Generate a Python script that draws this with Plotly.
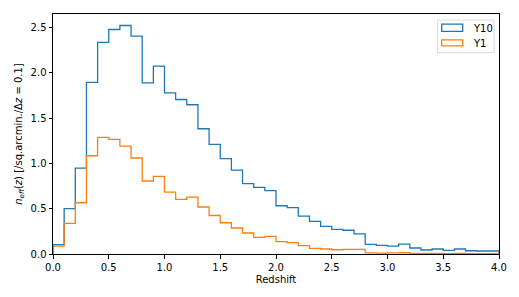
import plotly.graph_objects as go

bin_edges = [round(0.1 * i, 1) for i in range(41)]

y10 = [0.103, 0.50, 0.949, 1.894, 2.336, 2.479, 2.523, 2.406, 1.89, 2.075,
       1.78, 1.706, 1.648, 1.383, 1.21, 1.052, 0.927, 0.776, 0.735, 0.699,
       0.533, 0.511, 0.419, 0.36, 0.305, 0.272, 0.262, 0.222, 0.106, 0.095,
       0.088, 0.11, 0.066, 0.044, 0.055, 0.04, 0.055, 0.036, 0.033, 0.033]

y1 = [0.088, 0.338, 0.566, 1.085, 1.287, 1.265, 1.192, 1.06, 0.806, 0.857,
      0.684, 0.603, 0.629, 0.519, 0.425, 0.345, 0.287, 0.232, 0.184, 0.194,
      0.136, 0.125, 0.092, 0.062, 0.055, 0.047, 0.052, 0.05, 0.012, 0.01,
      0.012, 0.014, 0.008, 0.006, 0.007, 0.005, 0.006, 0.004, 0.004, 0.004]

series = [("Y10", y10, "#1f77b4"), ("Y1", y1, "#ff7f0e")]

x_ticks = [0.0, 0.5, 1.0, 1.5, 2.0, 2.5, 3.0, 3.5, 4.0]
y_ticks = [0.0, 0.5, 1.0, 1.5, 2.0, 2.5]

FONT = "DejaVu Sans"
FS = 10
fig = go.Figure()

for name, vals, color in series:
    xs = [bin_edges[0]] + bin_edges[:-1] + [bin_edges[-1]]
    ys = [0] + vals + [0]
    fig.add_trace(go.Scatter(x=xs, y=ys, mode="lines", name=name,
                             line=dict(color=color, width=1.3, shape="hv"),
                             showlegend=False, hoverinfo="skip"))

axis_common = dict(showgrid=False, zeroline=False, showline=True, mirror=True,
                   linecolor="black", linewidth=1, ticks="outside", ticklen=3.5,
                   tickwidth=0.8, tickcolor="black", automargin=False,
                   tickfont=dict(family=FONT, size=FS, color="black"))

fig.update_xaxes(range=[0, 4], tickvals=x_ticks,
                 ticktext=[f"{t:.1f}" for t in x_ticks],
                 title=dict(text="Redshift", font=dict(family=FONT, size=FS, color="black"), standoff=4),
                 **axis_common)
fig.update_yaxes(range=[0, 2.65], tickvals=y_ticks,
                 ticktext=[f"{t:.1f}" for t in y_ticks],
                 title=dict(text="<i>n</i><sub><i>eff</i></sub>(<i>z</i>) [/sq.arcmin./Δ<i>z</i> = 0.1]",
                            font=dict(family=FONT, size=FS, color="black"), standoff=6),
                 **axis_common)

# manual legend (matplotlib style)
shapes = [dict(type="rect", xref="paper", yref="paper", x0=0.862, x1=0.989, y0=0.839, y1=0.975,
               line=dict(color="#d0d0d0", width=0.8), fillcolor="rgba(255,255,255,0.8)", layer="above")]
annotations = []
leg_rows = [(0.928, 0.958, 0.940), (0.867, 0.892, 0.878)]
for (name, vals, color), (ry0, ry1, ty) in zip(series, leg_rows):
    shapes.append(dict(type="rect", xref="paper", yref="paper", x0=0.8715, x1=0.9186, y0=ry0, y1=ry1,
                       line=dict(color=color, width=1.3), fillcolor="rgba(0,0,0,0)", layer="above"))
    annotations.append(dict(text=name, xref="paper", yref="paper", x=0.9365, y=ty,
                            xanchor="left", yanchor="middle", showarrow=False,
                            font=dict(family=FONT, size=FS, color="black")))

fig.update_layout(width=519, height=297, margin=dict(l=53, r=20, t=14, b=43),
                  plot_bgcolor="white", paper_bgcolor="white",
                  shapes=shapes, annotations=annotations,
                  font=dict(family=FONT, size=FS, color="black"))

fig.write_html("out.html", config={"displayModeBar": False},
               post_script="document.body.style.margin='0';document.body.style.overflow='hidden';")
